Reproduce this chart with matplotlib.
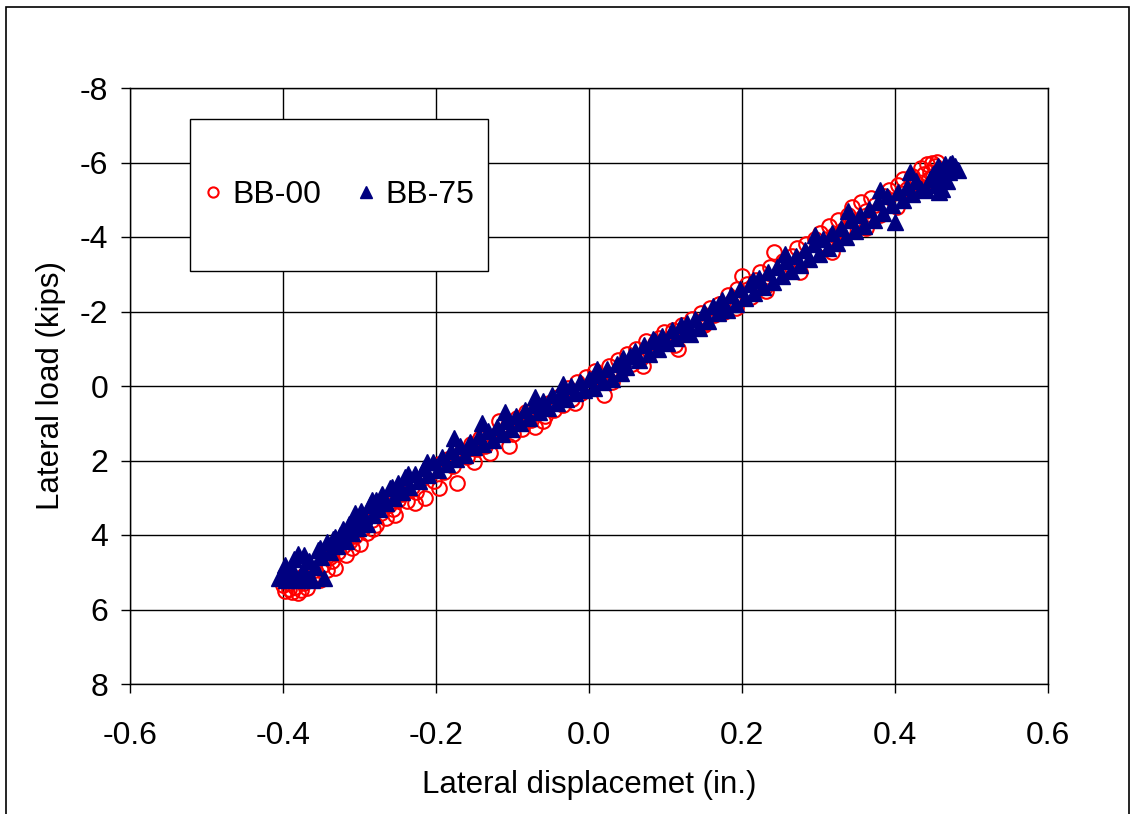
import matplotlib
matplotlib.use("Agg")
import matplotlib.pyplot as plt
from matplotlib.patches import Rectangle
from matplotlib.ticker import FormatStrFormatter

plt.rcParams['font.family'] = ['Liberation Sans', 'DejaVu Sans']
plt.rcParams['axes.unicode_minus'] = False

# BB-00 (open circles): lateral displacement (in.) and lateral load (kips)
bb00_x = [-0.400, -0.398, -0.392, -0.388, -0.384, -0.380, -0.376, -0.372, -0.368, -0.362,
          -0.356, -0.352, -0.348, -0.342, -0.338, -0.332, -0.328, -0.322, -0.318, -0.312,
          -0.306, -0.300, -0.296, -0.290, -0.284, -0.278, -0.272, -0.266, -0.262, -0.256,
          -0.250, -0.244, -0.238, -0.232, -0.226, -0.220, -0.214, -0.208, -0.202, -0.196,
          -0.190, -0.184, -0.178, -0.172, -0.166, -0.160, -0.154, -0.148, -0.142, -0.136,
          -0.130, -0.124, -0.118, -0.112, -0.106, -0.100, -0.094, -0.088, -0.082, -0.076,
          -0.070, -0.064, -0.058, -0.052, -0.046, -0.040, -0.034, -0.028, -0.022, -0.016,
          -0.010, -0.004, 0.002, 0.008, 0.014, 0.020, 0.026, 0.032, 0.038, 0.044,
          0.050, 0.056, 0.062, 0.068, 0.074, 0.080, 0.086, 0.092, 0.098, 0.104,
          0.110, 0.116, 0.122, 0.128, 0.134, 0.140, 0.146, 0.152, 0.158, 0.164,
          0.170, 0.176, 0.182, 0.188, 0.194, 0.200, 0.206, 0.212, 0.218, 0.224,
          0.230, 0.236, 0.242, 0.248, 0.254, 0.260, 0.266, 0.272, 0.278, 0.284,
          0.290, 0.296, 0.302, 0.308, 0.314, 0.320, 0.326, 0.332, 0.338, 0.344,
          0.350, 0.356, 0.362, 0.368, 0.374, 0.380, 0.386, 0.392, 0.398, 0.404,
          0.410, 0.416, 0.422, 0.428, 0.434, 0.438, 0.442, 0.446, 0.448, 0.452,
          0.455, 0.458, 0.445, 0.450,
          -0.392, -0.374, -0.358, -0.336, -0.310, -0.282, -0.254, -0.228, -0.196, -0.150,
          -0.104, -0.060, -0.018, 0.030, 0.070, 0.112, 0.150, 0.192, 0.232, 0.276,
          0.318, 0.362, 0.402, 0.436]
bb00_y = [5.35, 5.50, 5.45, 5.52, 5.40, 5.55, 5.48, 5.30, 5.42, 5.20,
          5.05, 5.22, 4.80, 4.95, 4.60, 4.88, 4.45, 4.30, 4.55, 4.15,
          4.02, 4.25, 3.80, 3.95, 3.60, 3.72, 3.40, 3.55, 3.20, 3.30,
          3.05, 2.90, 3.10, 2.70, 2.85, 2.50, 3.00, 2.35, 2.55, 2.10,
          2.30, 1.95, 2.15, 2.60, 1.75, 1.90, 1.55, 1.70, 1.40, 1.60,
          1.80, 1.35, 0.95, 1.25, 1.05, 1.30, 0.85, 1.15, 0.70, 0.90,
          1.10, 0.55, 0.80, 0.45, 0.65, 0.30, 0.50, 0.05, 0.35, -0.10,
          0.20, -0.25, 0.05, -0.40, -0.15, 0.25, -0.55, -0.30, -0.70, -0.45,
          -0.85, -0.60, -1.00, -0.75, -1.20, -0.90, -1.15, -1.30, -1.45, -1.25,
          -1.50, -1.00, -1.65, -1.40, -1.80, -1.55, -1.95, -1.70, -2.10, -1.90,
          -2.20, -2.00, -2.45, -2.30, -2.60, -2.95, -2.75, -2.40, -2.85, -3.05,
          -2.65, -3.20, -3.60, -3.00, -3.35, -3.15, -3.50, -3.70, -3.40, -3.80,
          -3.55, -3.95, -4.10, -3.80, -4.30, -4.05, -4.45, -4.20, -4.60, -4.80,
          -4.40, -4.95, -4.70, -5.05, -4.85, -4.60, -5.10, -5.25, -5.00, -5.40,
          -5.55, -5.30, -5.65, -5.45, -5.85, -5.70, -5.95, -5.75, -6.00, -5.90,
          -6.02, -5.80, -5.55, -5.65,
          5.30, 5.10, 4.95, 4.70, 4.35, 3.85, 3.45, 3.15, 2.75, 2.05,
          1.60, 0.95, 0.45, -0.10, -0.55, -1.10, -1.65, -2.10, -2.55, -3.05,
          -3.60, -4.25, -4.80, -5.35]

# BB-75 (filled triangles)
bb75_x = [-0.405, -0.400, -0.396, -0.392, -0.388, -0.384, -0.380, -0.378, -0.374, -0.370,
          -0.366, -0.362, -0.358, -0.354, -0.350, -0.346, -0.342, -0.338, -0.334, -0.330,
          -0.326, -0.322, -0.318, -0.314, -0.310, -0.306, -0.302, -0.298, -0.294, -0.290,
          -0.286, -0.282, -0.278, -0.274, -0.270, -0.266, -0.260, -0.255, -0.250, -0.245,
          -0.240, -0.235, -0.228, -0.222, -0.216, -0.210, -0.204, -0.198, -0.192, -0.186,
          -0.180, -0.174, -0.168, -0.162, -0.156, -0.150, -0.144, -0.138, -0.132, -0.126,
          -0.120, -0.114, -0.108, -0.102, -0.096, -0.090, -0.084, -0.078, -0.072, -0.066,
          -0.060, -0.054, -0.048, -0.042, -0.036, -0.030, -0.024, -0.018, -0.012, -0.006,
          0.000, 0.006, 0.012, 0.018, 0.024, 0.030, 0.036, 0.042, 0.048, 0.054,
          0.060, 0.066, 0.072, 0.078, 0.084, 0.090, 0.096, 0.102, 0.108, 0.114,
          0.120, 0.126, 0.132, 0.138, 0.144, 0.150, 0.156, 0.162, 0.168, 0.174,
          0.180, 0.186, 0.192, 0.198, 0.204, 0.210, 0.216, 0.222, 0.228, 0.234,
          0.240, 0.246, 0.252, 0.258, 0.264, 0.270, 0.276, 0.282, 0.288, 0.294,
          0.300, 0.306, 0.312, 0.318, 0.324, 0.330, 0.336, 0.342, 0.348, 0.354,
          0.360, 0.366, 0.372, 0.378, 0.384, 0.390, 0.396, 0.400, 0.404, 0.410,
          0.416, 0.422, 0.428, 0.434, 0.440, 0.446, 0.450, 0.454, 0.458, 0.462,
          0.466, 0.470, 0.474, 0.478, 0.482, 0.462, 0.468, 0.458,
          -0.398, -0.386, -0.372, -0.352, -0.332, -0.306, -0.284, -0.258, -0.236, -0.212,
          -0.176, -0.140, -0.110, -0.070, -0.034, 0.010, 0.044, 0.086, 0.128, 0.170,
          0.214, 0.256, 0.296, 0.338, 0.380, 0.420, 0.456, 0.472]
bb75_y = [5.15, 5.00, 5.20, 5.05, 4.90, 5.15, 4.50, 5.20, 4.95, 5.10,
          4.70, 5.20, 4.85, 4.40, 4.60, 5.15, 4.20, 4.45, 4.10, 4.30,
          4.00, 3.85, 4.15, 3.70, 3.95, 3.55, 3.80, 3.35, 3.50, 3.70,
          3.20, 3.45, 3.05, 3.30, 2.90, 3.15, 2.75, 3.00, 2.60, 2.85,
          2.45, 2.70, 2.35, 2.55, 2.20, 2.40, 2.05, 2.25, 1.90, 2.10,
          1.75, 1.95, 1.60, 1.85, 1.50, 1.65, 1.35, 1.55, 1.20, 1.45,
          1.10, 1.30, 0.95, 1.15, 0.80, 1.00, 0.65, 0.85, 0.50, 0.70,
          0.40, 0.60, 0.25, 0.45, 0.15, 0.35, 0.00, 0.20, -0.10, 0.10,
          -0.20, 0.05, -0.30, -0.10, -0.45, -0.20, -0.60, -0.35, -0.50, -0.80,
          -0.95, -0.70, -1.10, -0.85, -1.25, -1.00, -1.35, -1.15, -1.50, -1.30,
          -1.65, -1.45, -1.40, -1.80, -1.55, -2.00, -1.75, -2.15, -1.95, -2.30,
          -2.05, -2.45, -2.20, -2.60, -2.35, -2.75, -2.50, -2.90, -2.65, -3.05,
          -2.80, -3.20, -2.95, -3.35, -3.10, -3.50, -3.25, -3.65, -3.40, -3.80,
          -3.55, -3.95, -3.70, -4.10, -3.85, -4.25, -4.00, -4.45, -4.15, -4.60,
          -4.30, -4.75, -4.45, -4.95, -4.65, -5.10, -4.85, -4.40, -5.20, -5.00,
          -5.35, -5.15, -5.50, -5.30, -5.25, -5.55, -5.70, -5.40, -5.85, -5.60,
          -5.95, -5.75, -6.00, -5.90, -5.80, -5.30, -5.50, -5.20,
          4.80, 4.65, 4.55, 4.35, 4.05, 3.40, 3.05, 2.70, 2.35, 2.05,
          1.40, 1.00, 0.70, 0.30, -0.05, -0.45, -0.75, -1.20, -1.70, -2.20,
          -2.85, -3.55, -4.05, -4.70, -5.25, -5.75, -5.90, -5.95]

x_ticks = [-0.6, -0.4, -0.2, 0.0, 0.2, 0.4, 0.6]
y_ticks = [-8, -6, -4, -2, 0, 2, 4, 6, 8]

fig = plt.figure(figsize=(11.36, 8.14), dpi=100)
ax = fig.add_axes([130/1136, 1 - 684/814, 918/1136, 596/814])

ax.plot(bb00_x, bb00_y, 'o', ms=10.5, mfc='none', mec='#ff0000', mew=1.5,
        label='BB-00', zorder=3)
ax.plot(bb75_x, bb75_y, '^', ms=11.5, color='#000080', mec='#000080',
        label='BB-75', zorder=3)

ax.set_xlim(-0.6, 0.6)
ax.set_ylim(8, -8)
ax.set_xticks(x_ticks)
ax.set_yticks(y_ticks)
ax.xaxis.set_major_formatter(FormatStrFormatter('%.1f'))
ax.grid(True, color='black', lw=1.0)
ax.set_axisbelow(True)
for s in ax.spines.values():
    s.set_color('black')
    s.set_linewidth(1.0)
ax.tick_params(direction='out', length=6.5, width=1.0, labelsize=23)
ax.tick_params(axis='x', pad=20)
ax.tick_params(axis='y', pad=9)

ax.set_xlabel('Lateral displacemet (in.)', fontsize=22.5, labelpad=14)
ax.set_ylabel('Lateral load (kips)', fontsize=22.5, labelpad=10)

# legend box
box = Rectangle((0.065, 0.693), 0.325, 0.255, transform=ax.transAxes,
                facecolor='white', edgecolor='black', lw=1.0, zorder=4)
ax.add_patch(box)
ax.legend(loc='center', bbox_to_anchor=(0.2275, 0.8205), ncol=2, frameon=False,
          fontsize=23, markerscale=0.7, handlelength=0.6, handletextpad=0.33,
          columnspacing=1.08).set_zorder(5)

# outer chart frame
frame = Rectangle((6/1136, -0.02), 1123/1136, 1.02 - 7/814, transform=fig.transFigure,
                  facecolor='none', edgecolor='black', lw=1.2, clip_on=False)
fig.patches.append(frame)

fig.savefig('out.png', dpi=100)
